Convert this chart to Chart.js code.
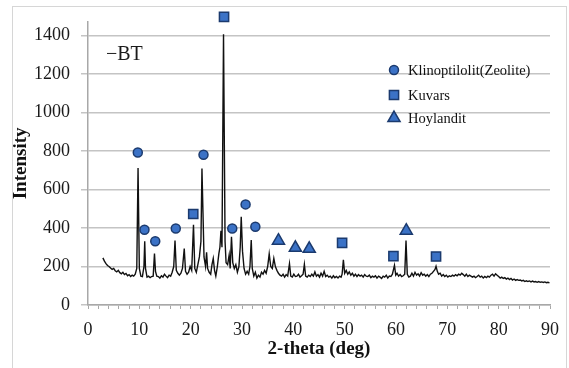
<!DOCTYPE html>
<html lang="en">
<head>
<meta charset="UTF-8" />
<title>XRD - BT</title>
<script src="https://cdn.jsdelivr.net/npm/chart.js@4.4.1/dist/chart.umd.min.js"></script>
<style>
  html, body { margin: 0; padding: 0; background: #fff; }
</style>
</head>
<body>
<canvas id="xrd" width="569" height="368"></canvas>
<script>
// BT diffraction pattern, [2-theta, intensity]
const btPattern = [
  [2.9,245],[3.2,228],[3.5,215],[3.8,205],[4.1,200],[4.4,192],[4.7,185],[5.0,190],[5.3,178],[5.6,172],
  [5.9,180],[6.2,168],[6.5,162],[6.8,170],[7.1,158],[7.4,164],[7.7,152],[8.0,158],[8.3,148],[8.6,155],
  [8.9,150],[9.2,160],[9.5,190],[9.75,712],[10.0,190],[10.3,150],[10.6,148],[10.9,200],[11.05,331],[11.2,190],
  [11.5,145],[11.8,150],[12.1,142],[12.4,148],[12.7,150],[12.95,268],[13.15,175],[13.4,150],[13.7,148],[14.0,140],
  [14.3,152],[14.6,145],[14.9,160],[15.2,150],[15.5,142],[15.8,155],[16.1,150],[16.4,170],[16.7,200],[16.95,335],
  [17.2,180],[17.5,165],[17.8,155],[18.1,165],[18.4,190],[18.75,293],[19.0,175],[19.3,160],[19.6,170],[19.9,200],
  [20.2,180],[20.55,417],[20.8,190],[21.1,170],[21.4,210],[21.7,250],[22.0,330],[22.2,709],[22.4,480],[22.6,250],
  [22.9,200],[23.1,274],[23.3,190],[23.6,170],[23.9,160],[24.15,210],[24.4,242],[24.65,180],[24.9,150],[25.2,200],
  [25.5,268],[25.7,300],[25.9,386],[26.1,300],[26.4,1407],[26.7,330],[26.9,220],[27.2,210],[27.5,260],[27.7,190],
  [27.95,355],[28.2,220],[28.5,190],[28.8,210],[29.1,170],[29.4,200],[29.65,300],[29.85,458],[30.1,280],[30.4,190],
  [30.7,160],[31.0,175],[31.3,160],[31.55,200],[31.8,338],[32.0,190],[32.3,150],[32.6,170],[32.9,140],[33.2,155],
  [33.5,145],[33.8,170],[34.1,160],[34.4,180],[34.7,165],[35.0,200],[35.3,266],[35.6,200],[35.9,190],[36.2,242],
  [36.5,200],[36.8,180],[37.1,165],[37.4,155],[37.7,150],[38.0,160],[38.3,145],[38.6,158],[38.9,150],[39.25,215],
  [39.5,150],[39.8,145],[40.1,160],[40.4,148],[40.7,150],[41.0,160],[41.3,145],[41.6,152],[41.9,160],[42.15,211],
  [42.4,150],[42.7,145],[43.0,155],[43.3,148],[43.6,160],[43.9,150],[44.2,172],[44.5,150],[44.8,158],[45.1,145],
  [45.4,165],[45.7,150],[46.0,175],[46.3,148],[46.6,155],[46.9,145],[47.2,150],[47.5,140],[47.8,152],[48.1,142],
  [48.4,148],[48.7,140],[49.0,150],[49.3,145],[49.5,160],[49.75,235],[50.0,165],[50.3,180],[50.6,160],[50.9,172],
  [51.2,155],[51.5,165],[51.8,150],[52.1,160],[52.4,148],[52.7,158],[53.0,150],[53.3,155],[53.6,145],[53.9,158],
  [54.2,150],[54.5,148],[54.8,155],[55.1,142],[55.4,150],[55.7,145],[56.0,152],[56.3,140],[56.6,150],[56.9,145],
  [57.2,138],[57.5,150],[57.8,145],[58.1,155],[58.4,140],[58.7,150],[59.0,148],[59.3,160],[59.7,206],[59.95,155],
  [60.2,165],[60.5,150],[60.8,158],[61.1,148],[61.4,152],[61.7,160],[61.95,335],[62.2,160],[62.5,145],[62.8,150],
  [63.1,165],[63.4,150],[63.7,170],[64.0,155],[64.3,162],[64.6,150],[64.9,168],[65.2,155],[65.5,160],[65.8,150],
  [66.1,158],[66.4,148],[66.7,160],[67.0,165],[67.3,175],[67.6,185],[67.8,201],[68.05,175],[68.3,160],[68.6,165],
  [68.9,150],[69.2,158],[69.5,148],[69.8,155],[70.1,145],[70.4,152],[70.7,148],[71.0,155],[71.3,150],[71.6,158],
  [71.9,152],[72.2,160],[72.5,155],[72.8,165],[73.1,158],[73.4,150],[73.7,160],[74.0,148],[74.3,155],[74.6,150],
  [74.9,145],[75.2,150],[75.5,142],[75.8,148],[76.1,155],[76.4,145],[76.7,150],[77.0,140],[77.3,148],[77.6,142],
  [77.9,150],[78.2,145],[78.5,155],[78.8,160],[79.1,150],[79.4,162],[79.7,155],[80.0,148],[80.3,140],[80.6,145],
  [80.9,138],[81.2,142],[81.5,135],[81.8,140],[82.1,132],[82.4,138],[82.7,130],[83.0,135],[83.3,128],[83.6,132],
  [83.9,128],[84.2,130],[84.5,125],[84.8,128],[85.1,122],[85.4,126],[85.7,122],[86.0,125],[86.3,120],[86.6,124],
  [86.9,120],[87.2,122],[87.5,118],[87.8,122],[88.1,118],[88.4,120],[88.7,117],[89.0,120],[89.3,116],[89.6,118],
  [89.9,115]
];

// phase markers
const klinoTheta = [9.7, 11.0, 13.1, 17.1, 22.5, 28.1, 30.7, 32.6];
const klinoInt   = [793, 391, 331, 398, 781, 398, 523, 407];
const kuvarsTheta = [20.5, 26.5, 49.5, 59.5, 67.8];
const kuvarsInt   = [473, 1498, 323, 254, 252];
const hoylTheta = [37.1, 40.4, 43.1, 62.0];
const hoylInt   = [334, 297, 292, 386];

const yTickValues = [0, 200, 400, 600, 800, 1000, 1200, 1400];

const legendItems = [
  { label: "Klinoptilolit(Zeolite)", style: "circle", radius: 4.5 },
  { label: "Kuvars", style: "rect", radius: 6.5 },
  { label: "Hoylandit", style: "triangle", radius: 7 }
];

const FONT = "'Liberation Serif', 'Times New Roman', serif";
const markerFill = "#3b72c6";
const markerEdge = "#1b3a6e";
const gridGray = "#c4c4c4";

const toPoints = (xs, ys) => xs.map((x, i) => ({ x: x, y: ys[i] }));

const framePlugin = {
  id: "frame",
  beforeDraw(chart) {
    const ctx = chart.ctx;
    ctx.save();
    ctx.fillStyle = "#fff";
    ctx.fillRect(0, 0, chart.width, chart.height);
    ctx.strokeStyle = "#d6d6d6";
    ctx.lineWidth = 1;
    ctx.strokeRect(12.5, 6.5, 554, 400);
    ctx.restore();
  },
  afterDraw(chart) {
    const ctx = chart.ctx;
    ctx.save();
    ctx.fillStyle = "#1a1a1a";
    ctx.textBaseline = "middle";
    ctx.font = "20px " + FONT;
    ctx.fillText("\u2212BT", 106, 55);

    ctx.font = "14.5px " + FONT;
    legendItems.forEach((item, i) => {
      const y = [70, 95, 118][i];
      ctx.fillStyle = markerFill;
      ctx.strokeStyle = markerEdge;
      ctx.lineWidth = 1.5;
      Chart.helpers.drawPoint(ctx, { pointStyle: item.style, radius: item.radius, rotation: 0, borderWidth: 1.5 }, 394, y);
      ctx.fillStyle = "#111";
      ctx.fillText(item.label, 408, y + 1);
    });
    ctx.restore();
  }
};

const markerSet = (label, xs, ys, style, radius) => ({
  type: "scatter",
  label: label,
  data: toPoints(xs, ys),
  pointStyle: style,
  pointRadius: radius,
  backgroundColor: markerFill,
  borderColor: markerEdge,
  borderWidth: 1.5,
  showLine: false,
  clip: false,
  order: 1
});

new Chart(document.getElementById("xrd"), {
  type: "line",
  data: {
    datasets: [
      {
        label: "BT",
        data: btPattern.map(p => ({ x: p[0], y: p[1] })),
        borderColor: "#111",
        borderWidth: 1.4,
        pointRadius: 0,
        tension: 0,
        fill: false,
        order: 5
      },
      markerSet("Klinoptilolit(Zeolite)", klinoTheta, klinoInt, "circle", 4.5),
      markerSet("Kuvars", kuvarsTheta, kuvarsInt, "rect", 6.5),
      markerSet("Hoylandit", hoylTheta, hoylInt, "triangle", 7)
    ]
  },
  options: {
    responsive: false,
    animation: false,
    layout: { padding: { left: 12, top: 19, right: 16, bottom: 0 } },
    plugins: {
      legend: { display: false },
      tooltip: { enabled: false }
    },
    scales: {
      x: {
        type: "linear",
        min: 0,
        max: 90,
        afterFit(scale) { scale.height = 63; },
        ticks: {
          stepSize: 2,
          autoSkip: false,
          maxRotation: 0,
          padding: 10,
          color: "#1a1a1a",
          font: { family: FONT, size: 18 },
          callback: v => (v % 10 === 0 ? String(v) : "")
        },
        grid: { drawOnChartArea: false, tickLength: 4, color: "#a8a8a8", lineWidth: 1 },
        border: { color: "#a8a8a8", width: 1.5 },
        title: {
          display: true,
          text: "2-theta (deg)",
          color: "#111",
          font: { family: FONT, size: 19, weight: "bold", lineHeight: 1 },
          padding: { top: 0, bottom: 9 }
        }
      },
      y: {
        min: 0,
        max: 1472,
        afterFit(scale) { scale.width = 76; },
        afterBuildTicks(scale) { scale.ticks = yTickValues.map(v => ({ value: v })); },
        ticks: {
          padding: 11,
          color: "#1a1a1a",
          font: { family: FONT, size: 18 },
          callback: v => String(v)
        },
        grid: { color: gridGray, lineWidth: 1.5, tickLength: 7 },
        border: { color: "#a8a8a8", width: 1.5 },
        title: {
          display: true,
          text: "Intensity",
          color: "#111",
          font: { family: FONT, size: 19, weight: "bold", lineHeight: 1 },
          padding: { top: 0, bottom: 0 }
        }
      }
    }
  },
  plugins: [framePlugin]
});
</script>
</body>
</html>
